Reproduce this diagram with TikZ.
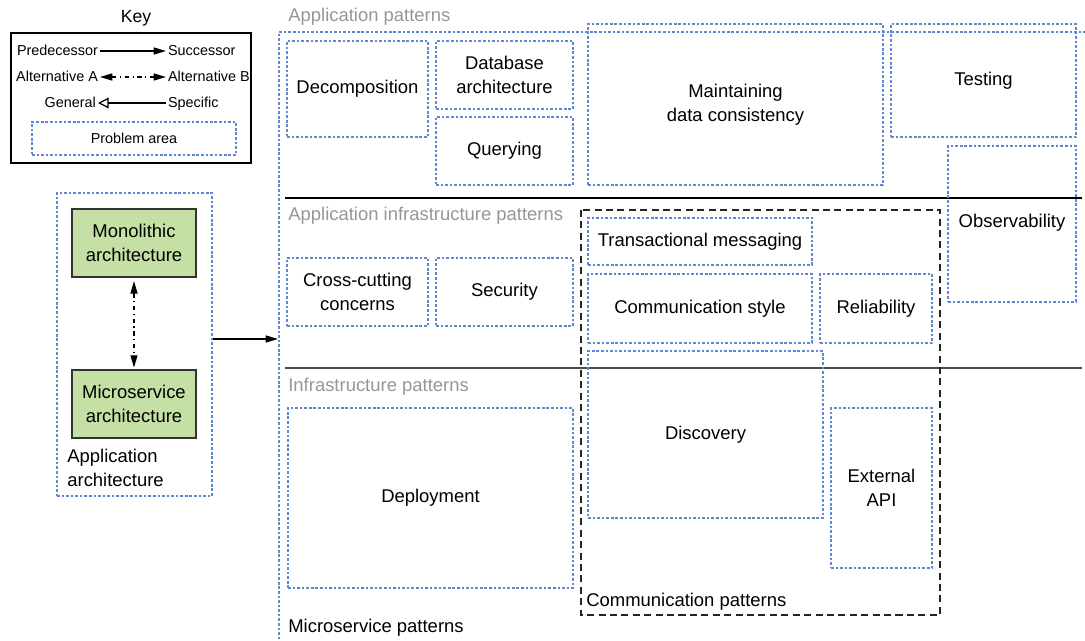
\documentclass[tikz,border=0pt]{standalone}
\usepackage{fontspec}
\setmainfont{Liberation Sans}
\usetikzlibrary{arrows.meta}
\definecolor{areablue}{RGB}{96,135,210}
\definecolor{archgreen}{RGB}{197,224,165}
\definecolor{labelgrey}{RGB}{150,150,150}
\tikzset{
  arealine/.style={draw=areablue, line width=0.75pt, dash pattern=on 1.5pt off 1.1pt},
  area/.style={arealine, align=center, inner sep=0pt},
  arch/.style={draw=black!80, fill=archgreen, line width=0.8pt, align=center, inner sep=0pt,
    minimum width=2.48cm, minimum height=1.36cm},
  keytext/.style={inner sep=1pt, text height=0.72em, text depth=0.2em, font=\fontsize{8.2}{10}\selectfont},
  grouplabel/.style={anchor=west, inner sep=0pt, text=labelgrey},
  commline/.style={draw=black!85, line width=0.75pt, dash pattern=on 4pt off 2.5pt},
  succarrow/.style={-{Triangle[length=7pt,width=4pt]}, line width=0.7pt},
  altarrow/.style={{Triangle[length=7pt,width=4pt]}-{Triangle[length=7pt,width=4pt]},
    line width=0.7pt, dash pattern=on 2.5pt off 2pt on 0.7pt off 2pt},
  genarrow/.style={-{Triangle[open,length=6pt,width=6pt]}, line width=0.7pt}
}
\begin{document}
\begin{tikzpicture}[x=0.02cm, y=-0.02cm, font=\fontsize{10.5}{13.5}\selectfont]
\useasboundingbox (0,0) rectangle (1085,640);
\node[font=\fontsize{10}{12}\selectfont] (keytitle) at (136,18) {Key};
\draw[line width=0.8pt] (11,33) rectangle (251,163);
\node[keytext, anchor=east] (pred) at (100,51) {Predecessor};
\node[keytext, anchor=west] (succ) at (166,51) {Successor};
\draw[succarrow] (pred) -- (succ);
\node[keytext, anchor=east] (alta) at (100,77) {Alternative A};
\node[keytext, anchor=west] (altb) at (166,77) {Alternative B};
\draw[altarrow] (alta) -- (altb);
\node[keytext, anchor=east] (general) at (98,103) {General};
\node[keytext, anchor=west] (specific) at (166,103) {Specific};
\draw[genarrow] (specific) -- (general);
\node[area, font=\fontsize{8.2}{10}\selectfont, minimum width=4.08cm, minimum height=0.66cm] (problem) at (134,138.5) {Problem area};

\node[area, minimum width=3.1cm, minimum height=6.06cm] (apparch) at (134.5,344.5) {};
\node[arch] (mono) at (134,243) {Monolithic\\architecture};
\node[arch] (micro) at (134,404) {Microservice\\architecture};
\draw[altarrow, shorten <=2pt, shorten >=1pt] (mono) -- (micro);
\node[anchor=west, align=left, inner sep=0pt] (apparchlabel) at (67,468) {Application\\architecture};

\draw[arealine] (1095,32) -- (279,32) -- (279,650);
\coordinate (msleft) at (278,339);
\draw[succarrow] (apparch.east |- msleft) -- (msleft);
\draw[line width=0.8pt] (285,198) -- (1082,198);
\draw[line width=0.8pt, black!70] (285,368) -- (1082,368);

\node[grouplabel] (applabel) at (288,17) {Application patterns};
\node[area, minimum width=2.82cm, minimum height=1.92cm] (decomp) at (357.5,89) {Decomposition};
\node[area, minimum width=2.74cm, minimum height=1.36cm] (dbarch) at (504.5,75) {Database\\architecture};
\node[area, minimum width=2.74cm, minimum height=1.36cm] (query) at (504.5,151) {Querying};
\node[area, minimum width=5.9cm, minimum height=3.22cm] (consist) at (735.5,104.5) {Maintaining\\data consistency};
\node[area, minimum width=3.7cm, minimum height=2.26cm] (testing) at (983.5,80.5) {Testing};
\node[area, minimum width=2.56cm, minimum height=3.12cm] (observ) at (1012,224) {};
\node (observlabel) at (1012,223) {Observability};

\node[grouplabel] (infralabel) at (288,216) {Application infrastructure patterns};
\node[area, minimum width=2.82cm, minimum height=1.36cm] (crosscut) at (357.5,292) {Cross-cutting\\concerns};
\node[area, minimum width=2.74cm, minimum height=1.36cm] (security) at (504.5,292) {Security};
\node[area, minimum width=4.48cm, minimum height=0.94cm] (txmsg) at (700,241.5) {Transactional messaging};
\node[area, minimum width=4.48cm, minimum height=1.38cm] (commstyle) at (700,308.5) {Communication style};
\node[area, minimum width=2.24cm, minimum height=1.38cm] (reliab) at (876,308.5) {Reliability};

\node[grouplabel] (inflabel) at (288,387) {Infrastructure patterns};
\node[area, minimum width=5.7cm, minimum height=3.6cm] (deploy) at (430.5,498) {Deployment};
\node[area, minimum width=4.7cm, minimum height=3.34cm] (discovery) at (705.5,434.5) {Discovery};
\node[area, minimum width=2.02cm, minimum height=3.2cm] (extapi) at (881.5,488) {External\\API};

\draw[commline] (581,210) rectangle (940,615);
\node[anchor=west, inner sep=0pt] (commlabel) at (586,602) {Communication patterns};
\node[anchor=west, inner sep=0pt] (mslabel) at (288,628) {Microservice patterns};
\end{tikzpicture}
\end{document}
